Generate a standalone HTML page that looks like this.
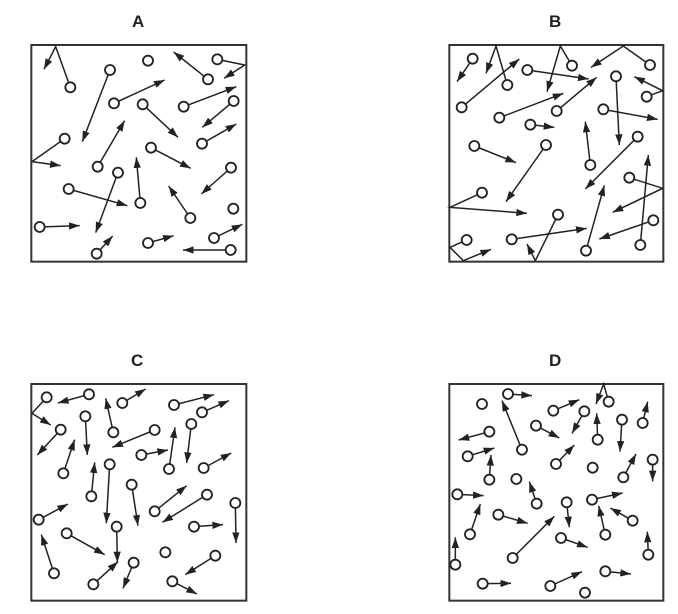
<!DOCTYPE html>
<html><head><meta charset="utf-8"><style>
html,body{margin:0;padding:0;background:#fff;}
svg{display:block;}
text{font-family:"Liberation Sans",sans-serif;font-weight:bold;font-size:17px;fill:#222;}
polyline{fill:none;stroke:#222;stroke-width:4.5;marker-end:url(#ah);}
circle{fill:#fff;stroke:#222;stroke-width:5.5;}
rect{fill:none;stroke:#333;stroke-width:6;}
</style></head><body>
<svg width="678" height="614" viewBox="0 0 678 614">
<defs><marker id="ah" markerUnits="userSpaceOnUse" markerWidth="32" markerHeight="24" refX="32" refY="12" orient="auto"><path d="M0,1 L32,12 L0,23 z" fill="#222"/></marker></defs>
<text x="132" y="27">A</text><text x="549" y="27">B</text><text x="131" y="366">C</text><text x="549" y="366">D</text>

<g transform="translate(28,40) scale(0.33333)">
<rect x="10" y="15" width="645" height="650"/>
<polyline points="127,142 83,20 48,88"/>
<polyline points="540,118 437,36"/>
<polyline points="568,58 650,75 588,115"/>
<polyline points="246,90 163,305"/>
<polyline points="258,190 410,120"/>
<polyline points="344,193 450,292"/>
<polyline points="467,200 625,140"/>
<polyline points="617,183 523,262"/>
<polyline points="110,296 12,365 98,377"/>
<polyline points="522,311 625,252"/>
<polyline points="369,323 488,385"/>
<polyline points="209,380 290,242"/>
<polyline points="270,398 203,578"/>
<polyline points="337,489 325,352"/>
<polyline points="122,447 298,497"/>
<polyline points="609,383 520,462"/>
<polyline points="487,534 422,438"/>
<polyline points="35,561 155,557"/>
<polyline points="206,641 254,588"/>
<polyline points="360,609 437,587"/>
<polyline points="558,594 643,553"/>
<polyline points="608,630 465,630"/>
<circle cx="127" cy="142" r="15"/><circle cx="360" cy="62" r="15"/><circle cx="540" cy="118" r="15"/><circle cx="568" cy="58" r="15"/><circle cx="246" cy="90" r="15"/><circle cx="258" cy="190" r="15"/><circle cx="344" cy="193" r="15"/><circle cx="467" cy="200" r="15"/><circle cx="617" cy="183" r="15"/><circle cx="110" cy="296" r="15"/><circle cx="522" cy="311" r="15"/><circle cx="369" cy="323" r="15"/><circle cx="209" cy="380" r="15"/><circle cx="270" cy="398" r="15"/><circle cx="337" cy="489" r="15"/><circle cx="122" cy="447" r="15"/><circle cx="609" cy="383" r="15"/><circle cx="487" cy="534" r="15"/><circle cx="616" cy="506" r="15"/><circle cx="35" cy="561" r="15"/><circle cx="206" cy="641" r="15"/><circle cx="360" cy="609" r="15"/><circle cx="558" cy="594" r="15"/><circle cx="608" cy="630" r="15"/>
</g>

<g transform="translate(446,40) scale(0.33333)">
<rect x="10" y="15" width="642" height="650"/>
<polyline points="80,56 33,125"/>
<polyline points="184,135 150,18 120,100"/>
<polyline points="47,202 220,57"/>
<polyline points="244,90 428,117"/>
<polyline points="378,77 343,18 303,155"/>
<polyline points="612,75 532,18 435,82"/>
<polyline points="160,233 352,160"/>
<polyline points="332,213 452,112"/>
<polyline points="510,109 520,315"/>
<polyline points="602,170 650,152 565,110"/>
<polyline points="472,208 635,238"/>
<polyline points="253,254 325,262"/>
<polyline points="85,318 210,368"/>
<polyline points="300,315 180,485"/>
<polyline points="433,375 418,245"/>
<polyline points="575,290 418,447"/>
<polyline points="550,413 650,445 500,517"/>
<polyline points="108,458 12,502 243,520"/>
<polyline points="583,615 607,345"/>
<polyline points="420,632 475,436"/>
<polyline points="622,541 460,597"/>
<polyline points="197,598 422,565"/>
<polyline points="336,524 268,662 243,612"/>
<polyline points="62,600 12,622 52,662 135,628"/>
<circle cx="80" cy="56" r="15"/><circle cx="184" cy="135" r="15"/><circle cx="47" cy="202" r="15"/><circle cx="244" cy="90" r="15"/><circle cx="378" cy="77" r="15"/><circle cx="612" cy="75" r="15"/><circle cx="160" cy="233" r="15"/><circle cx="332" cy="213" r="15"/><circle cx="510" cy="109" r="15"/><circle cx="602" cy="170" r="15"/><circle cx="472" cy="208" r="15"/><circle cx="253" cy="254" r="15"/><circle cx="85" cy="318" r="15"/><circle cx="300" cy="315" r="15"/><circle cx="433" cy="375" r="15"/><circle cx="575" cy="290" r="15"/><circle cx="550" cy="413" r="15"/><circle cx="108" cy="458" r="15"/><circle cx="583" cy="615" r="15"/><circle cx="420" cy="632" r="15"/><circle cx="622" cy="541" r="15"/><circle cx="197" cy="598" r="15"/><circle cx="336" cy="524" r="15"/><circle cx="62" cy="600" r="15"/>
</g>

<g transform="translate(28,379) scale(0.33333)">
<rect x="10" y="15" width="645" height="650"/>
<polyline points="56,55 12,103 68,138"/>
<polyline points="183,46 90,72"/>
<polyline points="283,72 353,30"/>
<polyline points="438,78 558,47"/>
<polyline points="522,100 603,65"/>
<polyline points="98,152 28,228"/>
<polyline points="172,112 178,228"/>
<polyline points="256,160 233,58"/>
<polyline points="380,153 253,205"/>
<polyline points="490,135 476,252"/>
<polyline points="340,228 420,213"/>
<polyline points="423,270 441,145"/>
<polyline points="527,267 610,222"/>
<polyline points="106,283 140,182"/>
<polyline points="190,352 200,250"/>
<polyline points="245,256 235,433"/>
<polyline points="311,317 330,440"/>
<polyline points="380,397 476,320"/>
<polyline points="537,347 403,430"/>
<polyline points="622,372 624,492"/>
<polyline points="32,422 120,375"/>
<polyline points="498,443 585,437"/>
<polyline points="116,463 230,527"/>
<polyline points="266,443 268,550"/>
<polyline points="78,583 40,467"/>
<polyline points="562,530 472,587"/>
<polyline points="196,616 270,548"/>
<polyline points="317,551 285,628"/>
<polyline points="433,607 507,645"/>
<circle cx="56" cy="55" r="15"/><circle cx="183" cy="46" r="15"/><circle cx="283" cy="72" r="15"/><circle cx="438" cy="78" r="15"/><circle cx="522" cy="100" r="15"/><circle cx="98" cy="152" r="15"/><circle cx="172" cy="112" r="15"/><circle cx="256" cy="160" r="15"/><circle cx="380" cy="153" r="15"/><circle cx="490" cy="135" r="15"/><circle cx="340" cy="228" r="15"/><circle cx="423" cy="270" r="15"/><circle cx="527" cy="267" r="15"/><circle cx="106" cy="283" r="15"/><circle cx="190" cy="352" r="15"/><circle cx="245" cy="256" r="15"/><circle cx="311" cy="317" r="15"/><circle cx="380" cy="397" r="15"/><circle cx="537" cy="347" r="15"/><circle cx="622" cy="372" r="15"/><circle cx="32" cy="422" r="15"/><circle cx="498" cy="443" r="15"/><circle cx="116" cy="463" r="15"/><circle cx="266" cy="443" r="15"/><circle cx="78" cy="583" r="15"/><circle cx="412" cy="520" r="15"/><circle cx="562" cy="530" r="15"/><circle cx="196" cy="616" r="15"/><circle cx="317" cy="551" r="15"/><circle cx="433" cy="607" r="15"/>
</g>

<g transform="translate(446,379) scale(0.33333)">
<rect x="10" y="15" width="642" height="650"/>
<polyline points="186,45 258,50"/>
<polyline points="488,68 473,15 450,75"/>
<polyline points="322,95 400,62"/>
<polyline points="415,97 378,163"/>
<polyline points="130,158 38,183"/>
<polyline points="228,212 168,65"/>
<polyline points="270,140 340,177"/>
<polyline points="455,182 452,103"/>
<polyline points="528,122 522,218"/>
<polyline points="590,132 605,68"/>
<polyline points="65,232 145,207"/>
<polyline points="130,302 135,228"/>
<polyline points="330,255 385,198"/>
<polyline points="532,295 570,225"/>
<polyline points="620,242 620,307"/>
<polyline points="34,346 113,350"/>
<polyline points="272,374 250,308"/>
<polyline points="362,370 370,445"/>
<polyline points="438,362 530,342"/>
<polyline points="72,466 103,375"/>
<polyline points="157,407 245,433"/>
<polyline points="560,425 493,387"/>
<polyline points="478,467 458,380"/>
<polyline points="200,537 325,412"/>
<polyline points="345,477 425,505"/>
<polyline points="607,527 604,458"/>
<polyline points="28,557 28,475"/>
<polyline points="110,614 195,613"/>
<polyline points="313,621 408,578"/>
<polyline points="478,577 555,585"/>
<circle cx="186" cy="45" r="15"/><circle cx="108" cy="75" r="15"/><circle cx="488" cy="68" r="15"/><circle cx="322" cy="95" r="15"/><circle cx="415" cy="97" r="15"/><circle cx="130" cy="158" r="15"/><circle cx="228" cy="212" r="15"/><circle cx="270" cy="140" r="15"/><circle cx="455" cy="182" r="15"/><circle cx="528" cy="122" r="15"/><circle cx="590" cy="132" r="15"/><circle cx="65" cy="232" r="15"/><circle cx="130" cy="302" r="15"/><circle cx="330" cy="255" r="15"/><circle cx="440" cy="266" r="15"/><circle cx="532" cy="295" r="15"/><circle cx="620" cy="242" r="15"/><circle cx="211" cy="300" r="15"/><circle cx="34" cy="346" r="15"/><circle cx="272" cy="374" r="15"/><circle cx="362" cy="370" r="15"/><circle cx="438" cy="362" r="15"/><circle cx="72" cy="466" r="15"/><circle cx="157" cy="407" r="15"/><circle cx="560" cy="425" r="15"/><circle cx="478" cy="467" r="15"/><circle cx="200" cy="537" r="15"/><circle cx="345" cy="477" r="15"/><circle cx="607" cy="527" r="15"/><circle cx="28" cy="557" r="15"/><circle cx="110" cy="614" r="15"/><circle cx="313" cy="621" r="15"/><circle cx="478" cy="577" r="15"/><circle cx="417" cy="641" r="15"/>
</g>
</svg>
</body></html>
